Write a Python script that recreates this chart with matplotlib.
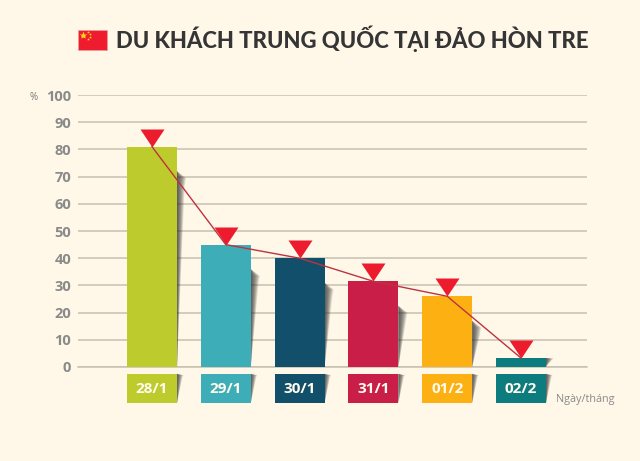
import matplotlib
matplotlib.use("Agg")
import matplotlib.pyplot as plt
from matplotlib.patches import Polygon, Rectangle

W, H, DPI = 640, 461, 100
days = ["28/1", "29/1", "30/1", "31/1", "01/2", "02/2"]
values = [81, 45, 40, 31.5, 26, 3.3]
colors = ["#BECB2D", "#3DADB7", "#114F6B", "#C81E47", "#FDB012", "#0D7C7F"]
yticks = list(range(0, 101, 10))
title = "DU KHÁCH TRUNG QUỐC TẠI ĐẢO HÒN TRE"
BG = "#FFF8E8"

fig = plt.figure(figsize=(W / DPI, H / DPI), dpi=DPI, facecolor=BG)
ax = fig.add_axes([78 / W, 1 - 367 / H, (587 - 78) / W, (367 - 95) / H], facecolor="none")
ux = 73.8
ax.set_xlim(-(152 - 78) / ux, (587 - 152) / ux)
ax.set_ylim(0, 100)
for s in ax.spines.values():
    s.set_visible(False)
ax.set_xticks([])
ax.set_yticks(yticks)
ax.tick_params(axis="y", length=0, pad=5, labelsize=10.5, labelcolor="#8A8A8A")
for t in ax.get_yticklabels():
    t.set_fontfamily("Open Sans")
    t.set_fontweight("bold")
ax.set_axisbelow(True)
ax.grid(axis="y", color="#C6C1B0", lw=1.1)
ax.axhline(0, color="#C6C1B0", lw=1.1, zorder=1, clip_on=False)

bw = 50 / ux
xs = list(range(len(days)))


def shadow(x, top, bottom, width, drop, zorder=2):
    n = 12
    for i in range(n):
        w = width * (1 - i / n)
        ax.add_patch(Polygon([(x, top), (x + w, top - drop), (x + w * 0.85, top - drop * 2.2), (x, bottom)],
                             closed=True, fc="#303030", ec="none", alpha=0.11,
                             zorder=zorder, clip_on=False))


for x, v in zip(xs, values):
    right = x + bw / 2
    if v > 10:
        shadow(right, v - 9, 0, 9 / ux, 2.5)
    else:
        shadow(right, v, 0.2, 8 / ux, 0.2)
ax.bar(xs, values, width=bw, color=colors, zorder=3)

# date boxes under the bars
box_bottom, box_h = -13.2, 10.7
for x in xs:
    shadow(x + bw / 2, box_bottom + box_h, box_bottom, 6.5 / ux, 0.5)
ax.bar(xs, [box_h] * 6, bottom=box_bottom, width=bw, color=colors, zorder=3, clip_on=False)
for x, d in zip(xs, days):
    ax.text(x, box_bottom + box_h / 2 - 0.1, d, color="#FFFBEF", ha="center", va="center",
            fontsize=11, fontweight="bold", family="Open Sans", zorder=4)

# trend line with triangles
ax.plot(xs, values, color="#BE3240", lw=1.0, zorder=6, clip_on=False)
tri = [(-12, 18), (12, 18), (0, 0)]
ax.plot(xs, values, ls="none", marker=tri, ms=36 * 72 / DPI, mfc="#EC1C2E", mec="none", zorder=5, clip_on=False)

# title and flag
fig.text(116 / W, 1 - 39 / H, title, fontsize=15.9, fontweight="black", family="Lato",
         color="#353535", ha="left", va="center")
fig.add_artist(Rectangle((78 / W, 1 - 50 / H), 29 / W, 20 / H, transform=fig.transFigure, fc="#EE1C2E", ec="#E8A0A0", lw=0.4))
fig.add_artist(plt.Line2D([83 / W], [1 - 35 / H], marker="*", ms=6, color="#FFD21E", mec="none", transform=fig.transFigure))
for px, py in [(88, 32), (90, 34), (90, 37), (88, 39)]:
    fig.add_artist(plt.Line2D([px / W], [1 - py / H], marker="*", ms=2.2, color="#FFD21E", mec="none", transform=fig.transFigure))

fig.text(34 / W, 1 - 97 / H, "%", fontsize=7, color="#777777", ha="center", va="center", family="Open Sans")
fig.text(585 / W, 1 - 399.5 / H, "Ngày/tháng", fontsize=7.8, color="#8A8A8A", ha="center", va="center", family="Open Sans")

fig.savefig("out.png", dpi=DPI, facecolor=BG)
